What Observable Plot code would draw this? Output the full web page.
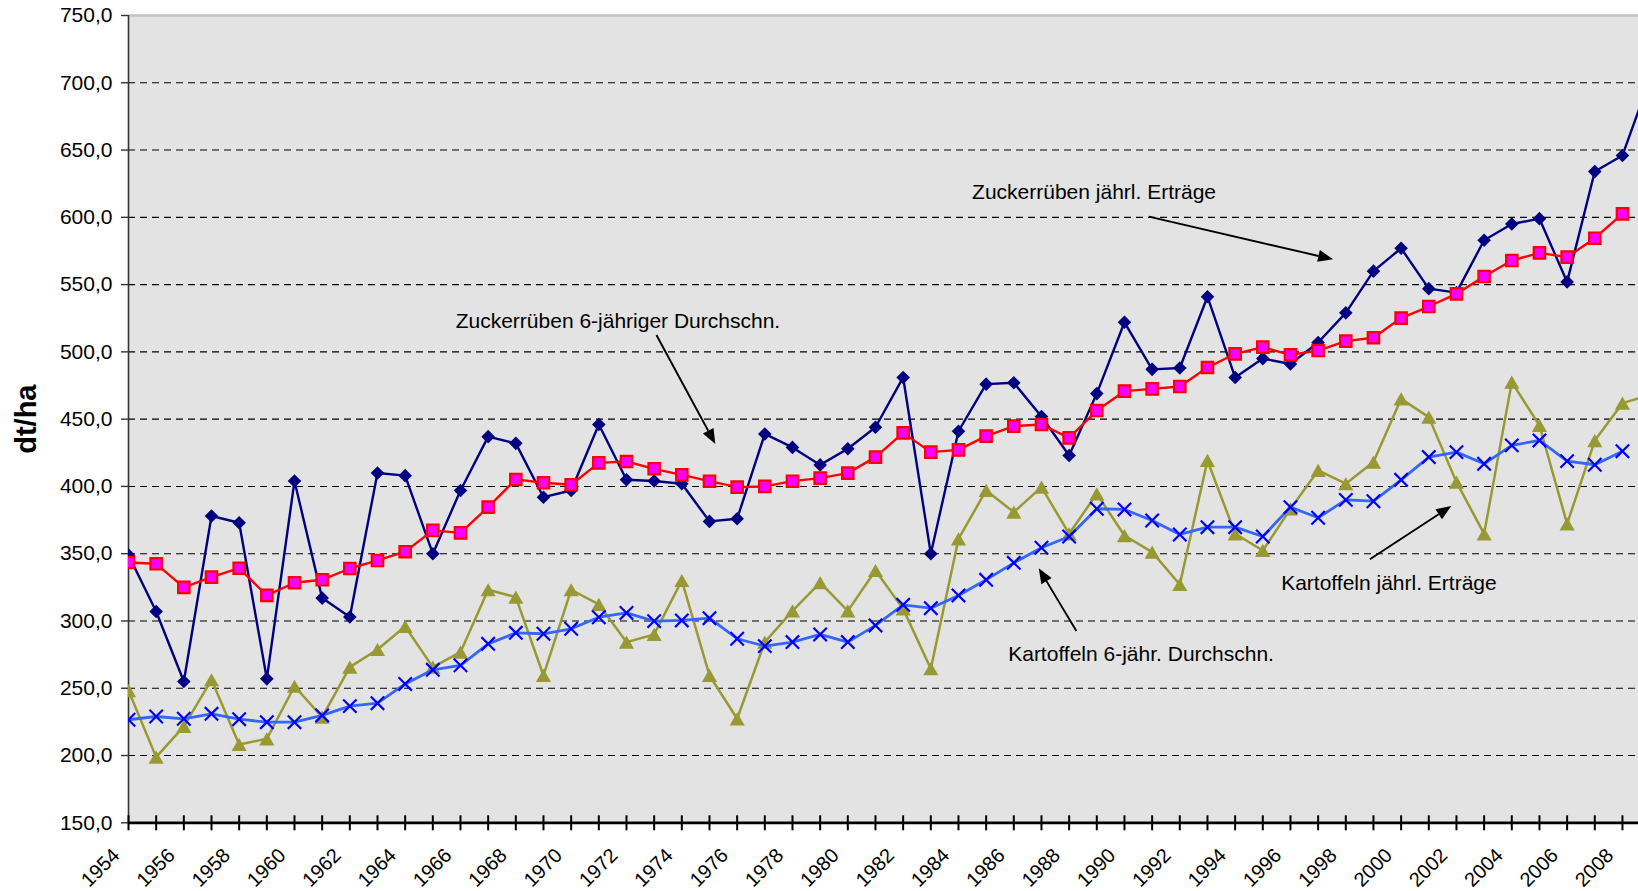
<!DOCTYPE html>
<html>
<head>
<meta charset="utf-8">
<script src="https://cdn.jsdelivr.net/npm/d3@7"></script>
<script src="https://cdn.jsdelivr.net/npm/@observablehq/plot@0.6"></script>
<style>
  html, body { margin: 0; padding: 0; background: #fff; overflow: hidden; }
  #chart svg { display: block; }
</style>
</head>
<body>
<div id="chart"></div>
<script>
// ---- Data ----
const years = [1954,1955,1956,1957,1958,1959,1960,1961,1962,1963,1964,1965,1966,1967,1968,1969,1970,1971,1972,1973,1974,1975,1976,1977,1978,1979,1980,1981,1982,1983,1984,1985,1986,1987,1988,1989,1990,1991,1992,1993,1994,1995,1996,1997,1998,1999,2000,2001,2002,2003,2004,2005,2006,2007,2008,2009];

// Zuckerrüben jährl. Erträge (dt/ha)
const zrAnnual = [349,307,255,378,373,257,404,317,303,410,408,350,397,437,432,392,397,446,405,404,402,374,376,439,429,416,428,444,481,350,441,476,477,452,423,469,522,487,488,541,481,495,491,507,529,560,577,547,544,583,595,599,552,634,646,703];
// Zuckerrüben 6-jähriger Durchschnitt
const zrAvg = [343.5,342.5,325,332.6,339.2,319,328.4,330.6,339,345,351.5,367.3,365.5,384.6,405.2,402.7,401.2,417.5,418.5,413.1,408.6,403.9,399.5,400,403.9,406.2,409.9,421.8,439.8,425.5,427.2,437.4,444.8,446,436.1,456.4,470.8,472.5,474.3,488.4,498.5,503.5,497.8,501,508,510.5,525.1,533.7,543.1,556,567.9,573.6,570.4,584.5,602.6,null];
// Kartoffeln jährl. Erträge
const kaAnnual = [248.3,198.8,221.6,256.3,208.2,212.4,251.5,228.5,265.7,278.8,295.9,265.7,276.8,323.2,317.7,259.5,323.2,312.3,284.3,290,330.1,259.5,227.3,284.3,307.5,328.5,307.5,337.5,309,264.5,361,397,380.9,399.5,364.8,394.5,363.5,351.2,327.1,419.3,364.8,352.4,383.3,411.9,402,418.1,465.1,451.5,403.2,364.8,477.5,445.3,372.2,434.1,461.9,468];
// Kartoffeln 6-jähr. Durchschnitt
const kaAvg = [226.6,229,227.3,231,227,224.8,224.8,229.8,236.7,238.9,253.2,263.7,267,283,291.2,290.5,294.2,302.8,306,299.9,300.4,302.1,286.8,281.3,284.3,290,284.3,296.7,312,309.5,319,330.6,343.2,354.4,362.8,383.4,382.9,374.7,364.3,369.7,369.7,362.8,384.6,376.7,390,389,404.9,421.8,425.5,416.8,430.5,434.2,418.8,416.1,426.2,null];

// Axis ticks / labels
const yTicks = [150,200,250,300,350,400,450,500,550,600,650,700,750];
const yGrid = [200,250,300,350,400,450,500,550,600,650,700];
const labelYears = [1954,1956,1958,1960,1962,1964,1966,1968,1970,1972,1974,1976,1978,1980,1982,1984,1986,1988,1990,1992,1994,1996,1998,2000,2002,2004,2006,2008];
const yLabel = "dt/ha";

// Annotations (data coordinates)
const annoText = ["Zuckerrüben jährl. Erträge","Zuckerrüben 6-jähriger Durchschn.","Kartoffeln 6-jähr. Durchschn.","Kartoffeln jährl. Erträge"];
const annoX = [1988.9, 1971.69, 1990.6, 1999.56];
const annoY = [618.5, 522.9, 275.1, 328.2];
const arrowX1 = [1990.9, 1973.1, 1988.28, 1998.89];
const arrowY1 = [600.1, 512.2, 292.2, 345.5];
const arrowX2 = [1997.56, 1975.23, 1986.92, 2001.83];
const arrowY2 = [568.4, 431.2, 338.8, 385.1];

// ---- Build table ----
const table = years.map((year, i) => ({year, zr: zrAnnual[i], zrAvg: zrAvg[i], ka: kaAnnual[i], kaAvg: kaAvg[i]}));
const annos = annoText.map((t, i) => ({t, x: annoX[i], y: annoY[i]}));

// ---- Custom symbols (bbox-centred, like spreadsheet markers) ----
const rad = size => Math.sqrt(size / Math.PI);
const symDiamond = {draw(c, s) { const r = rad(s); c.moveTo(0,-r); c.lineTo(r,0); c.lineTo(0,r); c.lineTo(-r,0); c.closePath(); }};
const symSquare = {draw(c, s) { const r = rad(s); c.moveTo(-r,-r); c.lineTo(r,-r); c.lineTo(r,r); c.lineTo(-r,r); c.closePath(); }};
const symTriangle = {draw(c, s) { const r = rad(s); c.moveTo(0,-r); c.lineTo(1.15*r,r); c.lineTo(-1.15*r,r); c.closePath(); }};
const symTimes = {draw(c, s) { const r = rad(s); c.moveTo(-r,-r); c.lineTo(r,r); c.moveTo(-r,r); c.lineTo(r,-r); }};

// Arrows drawn through the plot's scales
const arrowMark = (index, scales) => {
  const g = d3.create("svg:g");
  for (let i = 0; i < arrowX1.length; ++i) {
    const x1 = scales.x(arrowX1[i]), y1 = scales.y(arrowY1[i]);
    const x2 = scales.x(arrowX2[i]), y2 = scales.y(arrowY2[i]);
    const a = Math.atan2(y2 - y1, x2 - x1);
    const L = 15, W = 6;
    const bx = x2 - L * Math.cos(a), by = y2 - L * Math.sin(a);
    g.append("line").attr("x1", x1).attr("y1", y1).attr("x2", bx).attr("y2", by)
      .attr("stroke", "#000").attr("stroke-width", 1.9);
    g.append("path")
      .attr("d", `M${x2},${y2}L${bx - W * Math.sin(a)},${by + W * Math.cos(a)}L${bx + W * Math.sin(a)},${by - W * Math.cos(a)}Z`)
      .attr("fill", "#000");
  }
  return g.node();
};

const fmt = d => d.toFixed(1).replace(".", ",");

const chart = Plot.plot({
  width: 1638,
  height: 891,
  marginLeft: 128,
  marginRight: 0,
  marginTop: 15,
  marginBottom: 68.7,
  style: {fontFamily: "Arial, 'Liberation Sans', sans-serif", fontSize: "21px", color: "#000", background: "#fff"},
  x: {domain: [1954, 2008.58], axis: null},
  y: {domain: [150, 750], axis: null},
  marks: [
    Plot.frame({fill: "#e3e3e3", stroke: null}),
    Plot.ruleY([750], {stroke: "#c4c4c4", strokeWidth: 2.5}),
    Plot.ruleY(yGrid, {stroke: "#000", strokeWidth: 1.1, strokeDasharray: "7,5"}),
    Plot.ruleX([1954], {stroke: "#333", strokeWidth: 1.6}),
    Plot.axisY({ticks: yTicks, tickFormat: fmt, tickSize: 7, tickPadding: 9, label: null, stroke: "#333", strokeWidth: 1.4}),
    Plot.ruleY([150], {stroke: "#000", strokeWidth: 2.8}),
    Plot.ruleX(years, {x: d => d, y1: () => 150, y2: () => 150, insetTop: -7, insetBottom: -8, stroke: "#000", strokeWidth: 2}),
    Plot.text(labelYears, {x: d => d, frameAnchor: "bottom", text: d => String(d), rotate: -45, textAnchor: "middle", lineAnchor: "middle", dx: -28, dy: 45, fontSize: 20}),
    Plot.text([yLabel], {frameAnchor: "left", y: () => 450, text: d => d, rotate: -90, dx: -102, fontSize: 29, fontWeight: "bold", textAnchor: "middle", lineAnchor: "middle"}),

    // Zuckerrüben jährl.
    Plot.line(table, {x: "year", y: "zr", stroke: "#000080", strokeWidth: 2.4, clip: true}),
    Plot.dot(table, {x: "year", y: "zr", symbol: symDiamond, r: 6.8, fill: "#000080", stroke: "none", clip: true}),
    // Zuckerrüben 6-jähr.
    Plot.line(table, {x: "year", y: "zrAvg", stroke: "#ff0000", strokeWidth: 2.4, clip: true}),
    Plot.dot(table, {x: "year", y: "zrAvg", symbol: symSquare, r: 5.7, fill: "#ff00ff", stroke: "#ff0000", strokeWidth: 2.2, clip: true}),
    // Kartoffeln jährl.
    Plot.line(table, {x: "year", y: "ka", stroke: "#999933", strokeWidth: 2.5, clip: true}),
    Plot.dot(table, {x: "year", y: "ka", symbol: symTriangle, r: 6.6, fill: "#999933", stroke: "none", clip: true}),
    // Kartoffeln 6-jähr.
    Plot.line(table, {x: "year", y: "kaAvg", stroke: "#3366ff", strokeWidth: 2.8, clip: true}),
    Plot.dot(table, {x: "year", y: "kaAvg", symbol: symTimes, r: 6.7, fill: "none", stroke: "#0000ff", strokeWidth: 2.2, clip: true}),

    // Annotations
    Plot.text(annos, {x: "x", y: "y", text: "t", fontSize: 21, textAnchor: "middle", lineAnchor: "middle", fill: "#000"}),
    arrowMark
  ]
});
document.getElementById("chart").appendChild(chart);
</script>
</body>
</html>
